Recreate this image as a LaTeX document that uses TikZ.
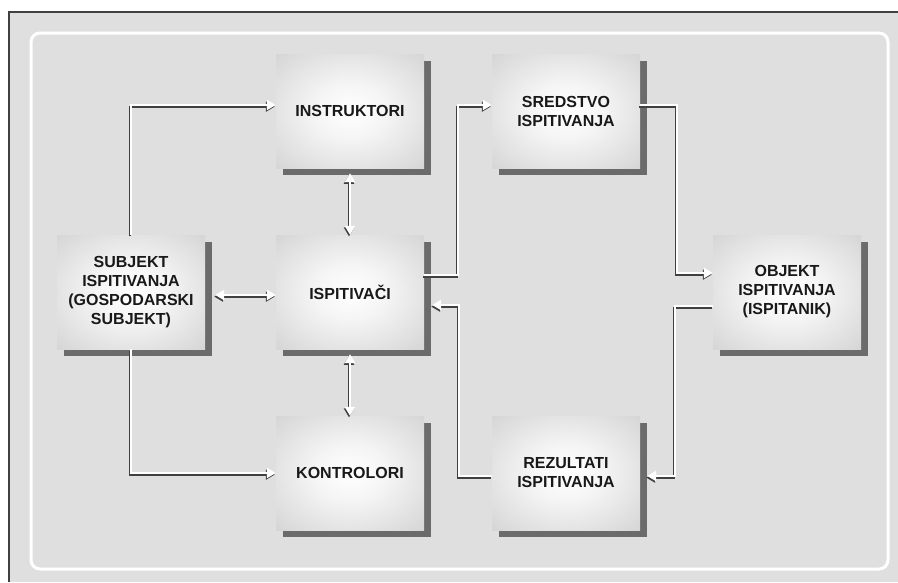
\documentclass[tikz,border=0pt]{standalone}
\usepackage{fontspec}
\setmainfont{Liberation Sans}
\usetikzlibrary{arrows.meta,shadows}
\pgfdeclareradialshading{boxglow}{\pgfpoint{0bp}{0bp}}{color(0bp)=(white); color(12bp)=(white!96!black); color(50bp)=(black!24); color(72bp)=(black!28)}
\begin{document}
\begin{tikzpicture}[x=1pt, y=-1pt, every node/.style={font=\fontsize{16}{19}\selectfont\bfseries}]
  \tikzstyle{blok}=[shading=boxglow,minimum width=148pt,minimum height=114pt,inner sep=0pt,align=center,text=black!90,general shadow={fill=black!58,shadow xshift=7pt,shadow yshift=-7pt}]
  \tikzstyle{veza}=[draw=white,line width=2.2pt,>={Triangle[length=9pt,width=10pt]},preaction={draw=black!75,line width=2pt,transform canvas={xshift=-1pt,yshift=-1.6pt}}]
  \useasboundingbox (0,0) rectangle (898,582);
  % frame
  \fill[white] (0,0) rectangle (898,582);
  \fill[gray!25] (9,12) rectangle (898,582);
  \draw[black!75,line width=1.5pt] (9,582) -- (9,12) -- (898,12);
  \draw[white,line width=3pt,rounded corners=9pt] (31,33) rectangle (888,569);
  % boxes
  \node[blok] (inst) at (350,111) {INSTRUKTORI};
  \node[blok] (sred) at (566,111) {SREDSTVO\\ISPITIVANJA};
  \node[blok] (subj) at (131,292) {SUBJEKT\\ISPITIVANJA\\(GOSPODARSKI\\SUBJEKT)};
  \node[blok] (isp) at (350,292) {ISPITIVAČI};
  \node[blok] (obj) at (787,292) {OBJEKT\\ISPITIVANJA\\(ISPITANIK)};
  \node[blok] (kont) at (350,473) {KONTROLORI};
  \node[blok] (rez) at (566,473) {REZULTATI\\ISPITIVANJA};
  % connectors
  \draw[veza,->] (subj.north) |- ([yshift=6pt]inst.west);
  \draw[veza,->] (subj.south) |- (kont.west);
  \draw[veza,<->] ([xshift=10pt,yshift=-3pt]subj.east) -- ([yshift=-3pt]isp.west);
  \draw[veza,<->] ([yshift=-5pt]inst.south) -- (isp.north);
  \draw[veza,<->] ([yshift=-5pt]isp.south) -- (kont.north);
  \draw[veza,->] ([yshift=17pt]isp.east) -- ++(34,0) |- ([yshift=6pt]sred.west);
  \draw[veza,->] ([yshift=6pt]sred.east) -- ++(37,0) |- ([yshift=19pt]obj.west);
  \draw[veza,->] ([yshift=-14pt]obj.west) -- ++(-38,0) |- ([xshift=7pt,yshift=-3pt]rez.east);
  \draw[veza,->] ([yshift=-3pt]rez.west) -- ++(-33,0) |- ([xshift=8pt,yshift=-13pt]isp.east);
\end{tikzpicture}
\end{document}
